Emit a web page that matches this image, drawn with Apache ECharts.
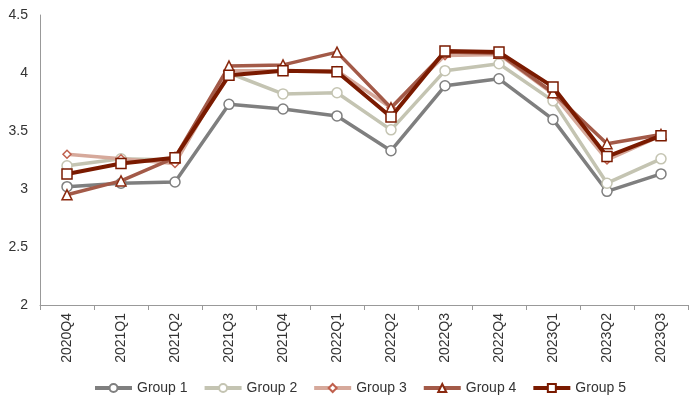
<!DOCTYPE html>
<html>
<head>
<meta charset="utf-8">
<script src="https://cdn.jsdelivr.net/npm/echarts@6/dist/echarts.min.js"></script>
<style>html,body{margin:0;padding:0;background:#fff}#c{width:700px;height:404px}</style>
</head>
<body>
<div id="c"></div>
<script>
var categories = ['2020Q4','2021Q1','2021Q2','2021Q3','2021Q4','2022Q1','2022Q2','2022Q3','2022Q4','2023Q1','2023Q2','2023Q3'];
var group1 = [3.02, 3.05, 3.06, 3.73, 3.69, 3.63, 3.33, 3.89, 3.95, 3.60, 2.98, 3.13];
var group2 = [3.20, 3.26, 3.25, 4.00, 3.82, 3.83, 3.51, 4.02, 4.08, 3.76, 3.05, 3.26];
var group3 = [3.30, 3.26, 3.22, 4.02, 4.02, 4.02, 3.70, 4.15, 4.16, 3.82, 3.25, 3.46];
var group4 = [2.95, 3.07, 3.27, 4.06, 4.07, 4.18, 3.70, 4.18, 4.17, 3.83, 3.39, 3.47];
var group5 = [3.13, 3.22, 3.27, 3.98, 4.02, 4.01, 3.62, 4.19, 4.18, 3.88, 3.28, 3.46];
var seriesNames = ['Group 1','Group 2','Group 3','Group 4','Group 5'];

var chart = echarts.init(document.getElementById('c'));
function mk(name, data, color, border, symbol, size, width, z) {
  return {
    name: name, type: 'line', data: data, symbol: symbol, symbolSize: size, z: z,
    lineStyle: {color: color, width: width},
    itemStyle: {color: '#fff', borderColor: border, borderWidth: 1.5},
    emphasis: {disabled: true}, animation: false
  };
}
chart.setOption({
  animation: false,
  grid: {left: 40, right: 12, top: 15, bottom: 99},
  legend: {
    top: 381, left: 93, padding: 0, itemWidth: 37, itemHeight: 10, itemGap: 15,
    lineStyle: {width: 4},
    textStyle: {fontFamily: 'Liberation Sans, Arial', fontSize: 14, color: '#333'},
    data: seriesNames
  },
  xAxis: {
    type: 'category', data: categories, boundaryGap: true,
    axisLine: {lineStyle: {color: '#999'}},
    axisTick: {show: true, lineStyle: {color: '#999'}},
    axisLabel: {rotate: 90, color: '#333', fontFamily: 'Liberation Sans, Arial', fontSize: 14, margin: 8}
  },
  yAxis: {
    type: 'value', min: 2, max: 4.5, interval: 0.5,
    axisLine: {show: true, lineStyle: {color: '#999'}},
    axisTick: {show: false},
    splitLine: {show: false},
    axisLabel: {color: '#333', fontFamily: 'Liberation Sans, Arial', fontSize: 14, margin: 12}
  },
  series: [
    mk(seriesNames[0], group1, '#7f7f7f', '#7f7f7f', 'circle', 10, 3.5, 1),
    mk(seriesNames[1], group2, '#c4c4b2', '#c4c4b2', 'circle', 10, 3.5, 2),
    mk(seriesNames[2], group3, '#d6a99b', '#c0604d', 'diamond', 8, 3.5, 3),
    mk(seriesNames[3], group4, '#a35a48', '#8b2a10', 'triangle', 10, 3.5, 4),
    mk(seriesNames[4], group5, '#7a1a00', '#7a1a00', 'rect', 10, 4, 5)
  ]
});
</script>
</body>
</html>
